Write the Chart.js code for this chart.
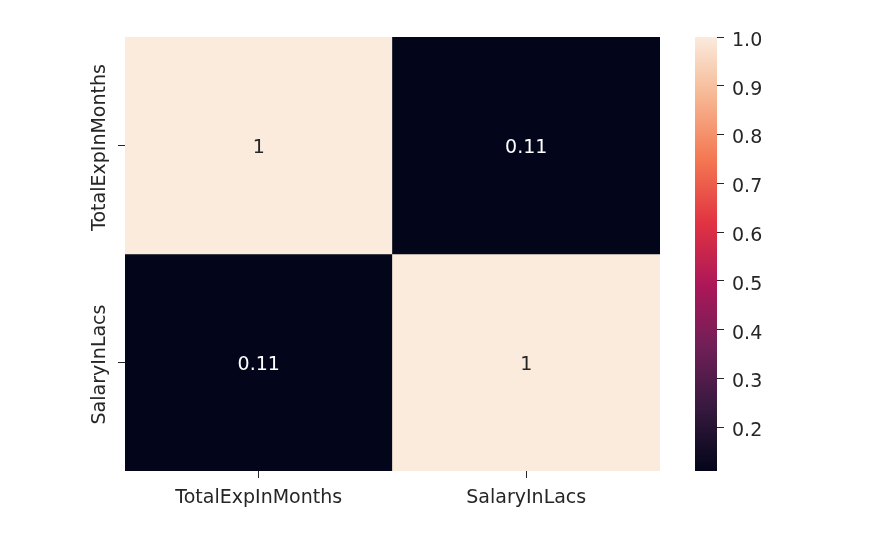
<!DOCTYPE html>
<html><head><meta charset="utf-8">
<script src="https://cdn.jsdelivr.net/npm/chart.js@4"></script>
<style>html,body{margin:0;padding:0;background:#fff;width:882px;height:538px;overflow:hidden}
canvas{position:absolute;left:0;top:0}</style></head>
<body>
<canvas id="main" width="882" height="538"></canvas>
<canvas id="cbar" width="882" height="538"></canvas>
<script>
// ---- data ----
const variables = ['TotalExpInMonths', 'SalaryInLacs'];
const corrRow0 = [1, 0.11];
const corrRow1 = [0.11, 1];
const annotRow0 = ['1', '0.11'];
const annotRow1 = ['0.11', '1'];
const colorbarTicks = [0.2, 0.3, 0.4, 0.5, 0.6, 0.7, 0.8, 0.9, 1.0];
const colorMin = 0.11, colorMax = 1.0;

// rocket colormap stops
const rocketStops = [
  [0.000, '#03051a'], [0.143, '#35193e'], [0.286, '#701f57'], [0.429, '#ad1759'],
  [0.571, '#e13342'], [0.714, '#f37651'], [0.857, '#f6b48f'], [1.000, '#faebdd']
];
function hexToRgb(h){return [parseInt(h.slice(1,3),16),parseInt(h.slice(3,5),16),parseInt(h.slice(5,7),16)];}
function rocket(v){
  let t = (v - colorMin) / (colorMax - colorMin);
  t = Math.max(0, Math.min(1, t));
  for (let i = 1; i < rocketStops.length; i++) {
    if (t <= rocketStops[i][0]) {
      const [t0, c0] = rocketStops[i-1], [t1, c1] = rocketStops[i];
      const f = (t - t0) / (t1 - t0);
      const a = hexToRgb(c0), b = hexToRgb(c1);
      return 'rgb(' + a.map((x, k) => Math.round(x + (b[k] - x) * f)).join(',') + ')';
    }
  }
  return rocketStops[rocketStops.length-1][1];
}

const FONT = 'DejaVu Sans';
const TXT = '#262626';
Chart.defaults.font.family = FONT;
Chart.defaults.color = TXT;

const rows = [corrRow0, corrRow1];
const annots = [annotRow0, annotRow1];

const labelPlugin = {
  id: 'heatLabels',
  afterDatasetsDraw(chart) {
    const ctx = chart.ctx, xs = chart.scales.x, ys = chart.scales.y;
    ctx.save();
    ctx.font = '19px "' + FONT + '"';
    ctx.textAlign = 'center';
    ctx.textBaseline = 'middle';
    rows.forEach((row, i) => {
      row.forEach((v, j) => {
        const t = (v - colorMin) / (colorMax - colorMin);
        ctx.fillStyle = t > 0.6 ? TXT : '#ffffff';
        ctx.fillText(annots[i][j], xs.getPixelForValue(j), ys.getPixelForValue(i + 0.5) + 3);
      });
    });
    // rotated y tick labels
    ctx.fillStyle = TXT;
    ctx.textBaseline = 'alphabetic';
    variables.forEach((name, i) => {
      ctx.save();
      ctx.translate(chart.chartArea.left - 20, ys.getPixelForValue(i + 0.5) + 2);
      ctx.rotate(-Math.PI / 2);
      ctx.fillText(name, 0, 0);
      ctx.restore();
    });
    ctx.restore();
  }
};

new Chart(document.getElementById('main'), {
  type: 'bar',
  data: {
    labels: variables,
    datasets: rows.map((row, i) => ({
      label: variables[i],
      data: variables.map(() => [i, i + 1]),
      backgroundColor: row.map(rocket),
      borderWidth: 0,
      barPercentage: 1,
      categoryPercentage: 1
    }))
  },
  options: {
    responsive: false,
    animation: false,
    devicePixelRatio: 1,
    layout: { padding: { left: 85, right: 222, top: 37, bottom: 22 } },
    plugins: { legend: { display: false }, tooltip: { enabled: false } },
    scales: {
      x: {
        type: 'category',
        stacked: true,
        grid: { offset: false, drawOnChartArea: false, drawTicks: true, tickLength: 7, color: TXT },
        border: { display: false },
        ticks: { font: { size: 19 }, color: TXT, padding: 9, maxRotation: 0 },
        afterFit(s) { s.height = 45; }
      },
      y: {
        type: 'linear',
        reverse: true,
        min: 0, max: 2,
        grid: { drawOnChartArea: false, drawTicks: true, tickLength: 7, color: TXT },
        border: { display: false },
        ticks: { display: false },
        afterBuildTicks(s) { s.ticks = variables.map((_, i) => ({ value: i + 0.5 })); },
        afterFit(s) { s.width = 40; }
      }
    }
  },
  plugins: [labelPlugin]
});

new Chart(document.getElementById('cbar'), {
  type: 'bar',
  data: {
    labels: ['colorbar'],
    datasets: [{
      data: [[colorMin, colorMax]],
      borderWidth: 0,
      barPercentage: 1,
      categoryPercentage: 1,
      backgroundColor(c) {
        const ch = c.chart, ys = ch.scales.y;
        if (!ys || !ch.chartArea) return '#000';
        const g = ch.ctx.createLinearGradient(0, ys.getPixelForValue(colorMin), 0, ys.getPixelForValue(colorMax));
        rocketStops.forEach(([t, col]) => g.addColorStop(t, col));
        return g;
      }
    }]
  },
  options: {
    responsive: false,
    animation: false,
    devicePixelRatio: 1,
    layout: { padding: { left: 695, right: 105, top: 37, bottom: 67 } },
    plugins: { legend: { display: false }, tooltip: { enabled: false } },
    scales: {
      x: { display: false },
      y: {
        type: 'linear',
        position: 'right',
        min: colorMin, max: colorMax,
        grid: { drawOnChartArea: false, drawTicks: true, tickLength: 7, color: TXT },
        border: { display: false },
        ticks: { font: { size: 19 }, color: TXT, padding: 8, labelOffset: 4, callback: v => Number(v).toFixed(1) },
        afterBuildTicks(s) { s.ticks = colorbarTicks.map(v => ({ value: v })); },
        afterFit(s) { s.width = 60; }
      }
    }
  }
});
</script>
</body></html>
